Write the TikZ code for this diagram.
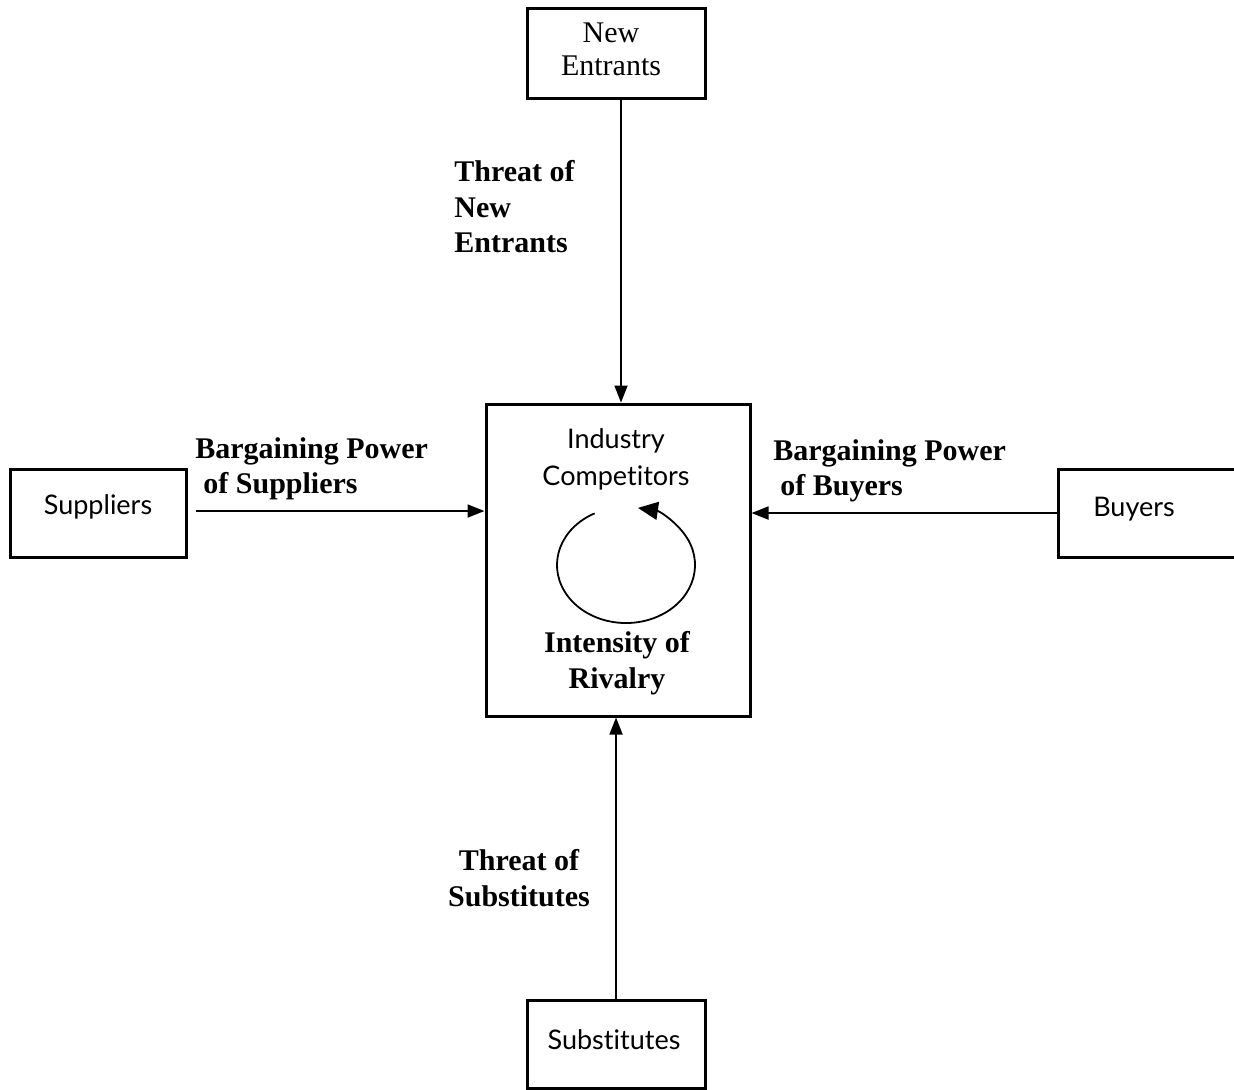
\documentclass[tikz,border=0pt]{standalone}
\usepackage{fontspec}
\setmainfont{Liberation Serif}
\newfontfamily\boxfont[Ligatures={NoCommon,NoRare,NoContextual}]{Lato}
\usetikzlibrary{arrows.meta,calc}
\tikzset{
  box/.style={draw, line width=1.5pt, inner sep=0pt},
  boxtxt/.style={font=\boxfont\fontsize{13.5}{18.5}\selectfont, align=center, inner sep=0pt},
  lbl/.style={font=\bfseries\fontsize{15}{17.75}\selectfont, inner sep=0pt},
  arr/.style={line width=0.9pt, -{Triangle[length=8.5pt,width=6.5pt]}},
  cyc/.style={line width=0.9pt, -{Triangle[length=10pt,width=9pt]}}
}
\begin{document}
\begin{tikzpicture}[x=0.5pt,y=-0.5pt]
\useasboundingbox (0,0) rectangle (1234,1089);
% boxes
\node[box, minimum width=89pt, minimum height=45pt] (ne) at (616,53) {};
\node[font=\fontsize{15}{16.5}\selectfont, align=center, inner sep=0pt] (netxt) at (611,49) {New\\Entrants};
\node[box, minimum width=132pt, minimum height=156pt] (cen) at (618,560) {};
\node[box, minimum width=88pt, minimum height=44pt] (sup) at (98,513) {};
\node[boxtxt] (suptxt) at (98,507) {Suppliers};
\node[box, minimum width=89pt, minimum height=44pt] (buy) at (1147,513) {};
\node[boxtxt] (buytxt) at (1134,509) {Buyers};
\node[box, minimum width=89pt, minimum height=44pt] (sub) at (616,1044) {};
\node[boxtxt] (subtxt) at (614,1040) {Substitutes};
% inner texts
\node[boxtxt] (ic) at (616,459) {Industry\\Competitors};
\node[lbl, align=center] (ir) at (617,663) {Intensity of\\Rivalry};
% cycle arrow
\coordinate (cc) at (626,565);
\draw[cyc] ($(cc)+(243:69 and 58)$) arc[start angle=243, end angle=-80, x radius=69, y radius=58];
% labels
\node[lbl, align=left, anchor=west] (lne) at (454,207) {Threat of\\New\\Entrants};
\node[lbl, align=left, anchor=west] (lsup) at (195,469) {Bargaining Power\\\hspace*{4pt}of Suppliers};
\node[lbl, align=left, anchor=west] (lbuy) at (773,471) {Bargaining Power\\\hspace*{3.5pt}of Buyers};
\node[lbl, align=center] (lsub) at (519,878) {Threat of\\Substitutes};
% connectors
\draw[arr] ([xshift=2.5pt]ne.south) -- ([xshift=2.5pt]ne.south |- cen.north);
\draw[arr, shorten <=4pt] ([yshift=1pt]sup.east) -- ([yshift=1pt]sup.east -| cen.west);
\draw[arr] (buy.west) -- (buy.west -| cen.east);
\draw[arr] (sub.north) -- (sub.north |- cen.south);
\end{tikzpicture}
\end{document}
